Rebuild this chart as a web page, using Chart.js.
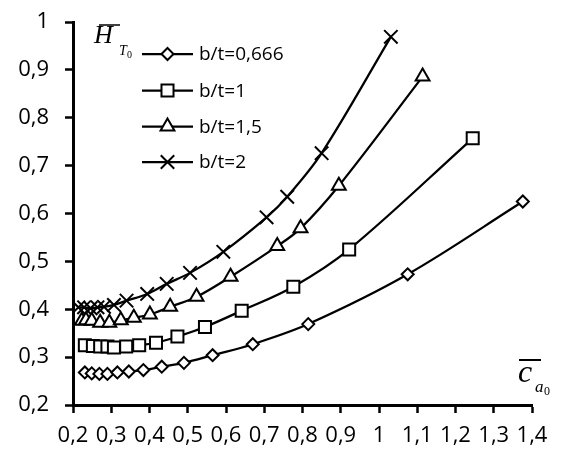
<!DOCTYPE html>
<html>
<head>
<meta charset="utf-8">
<script src="https://cdn.jsdelivr.net/npm/chart.js@4.4.1/dist/chart.umd.min.js"></script>
<style>
  html, body { margin: 0; padding: 0; background: #fff; }
  #wrap { width: 562px; height: 453px; position: relative; }
</style>
</head>
<body>
<div id="wrap"><canvas id="c"></canvas></div>
<script>
// Series names
const seriesLabels = ['b/t=0,666', 'b/t=1', 'b/t=1,5', 'b/t=2'];

// b/t = 0,666
const xBt0666 = [0.231, 0.249, 0.269, 0.290, 0.316, 0.346, 0.384, 0.432, 0.490, 0.565, 0.670, 0.815, 1.075, 1.376];
const yBt0666 = [0.268, 0.266, 0.265, 0.265, 0.268, 0.270, 0.273, 0.280, 0.288, 0.304, 0.327, 0.369, 0.473, 0.625];

// b/t = 1
const xBt1 = [0.231, 0.252, 0.271, 0.290, 0.307, 0.339, 0.373, 0.417, 0.473, 0.545, 0.641, 0.776, 0.922, 1.245];
const yBt1 = [0.325, 0.323, 0.322, 0.322, 0.320, 0.322, 0.325, 0.330, 0.343, 0.363, 0.397, 0.447, 0.525, 0.757];

// b/t = 1,5
const xBt15 = [0.223, 0.234, 0.249, 0.271, 0.295, 0.325, 0.359, 0.401, 0.454, 0.523, 0.612, 0.734, 0.795, 0.895, 1.114];
const yBt15 = [0.376, 0.377, 0.376, 0.372, 0.372, 0.377, 0.382, 0.389, 0.405, 0.426, 0.468, 0.532, 0.569, 0.658, 0.886];

// b/t = 2
const xBt2 = [0.214, 0.229, 0.246, 0.264, 0.281, 0.307, 0.340, 0.394, 0.445, 0.506, 0.593, 0.706, 0.760, 0.850, 1.031];
const yBt2 = [0.404, 0.404, 0.402, 0.404, 0.405, 0.409, 0.418, 0.432, 0.453, 0.476, 0.520, 0.592, 0.635, 0.726, 0.969];

// Axis tick labels (comma decimal separator)
const xTickLabels = ['0,2', '0,3', '0,4', '0,5', '0,6', '0,7', '0,8', '0,9', '1', '1,1', '1,2', '1,3', '1,4'];
const yTickLabels = ['0,2', '0,3', '0,4', '0,5', '0,6', '0,7', '0,8', '0,9', '1'];

const pairs = (xs, ys) => xs.map((x, i) => ({ x: x, y: ys[i] }));

const markerStyles = [
  { pointStyle: 'rectRot', radius: 6 },
  { pointStyle: 'rect', radius: 8.5 },
  { pointStyle: 'triangle', radius: 8 },
  { pointStyle: 'crossRot', radius: 9.5 }
];
const seriesData = [pairs(xBt0666, yBt0666), pairs(xBt1, yBt1), pairs(xBt15, yBt15), pairs(xBt2, yBt2)];

const datasets = seriesData.map((d, i) => ({
  label: seriesLabels[i],
  data: d,
  showLine: true,
  tension: 0.35,
  borderColor: '#000',
  borderWidth: 2.25,
  pointStyle: markerStyles[i].pointStyle,
  pointRadius: markerStyles[i].radius,
  pointHoverRadius: markerStyles[i].radius,
  pointBorderColor: '#000',
  pointBackgroundColor: '#fff',
  pointBorderWidth: 2
}));

const tickFont = { family: '"Open Sans", sans-serif', size: 22 };

// Legend: a short line with the marker in its middle, then the series name
const lineLegend = {
  id: 'lineLegend',
  afterDatasetsDraw(chart) {
    const ctx = chart.ctx;
    const rows = [54, 90.5, 126.5, 162];
    ctx.save();
    chart.data.datasets.forEach((ds, i) => {
      const y = rows[i];
      ctx.strokeStyle = '#000';
      ctx.lineWidth = 2.25;
      ctx.beginPath();
      ctx.moveTo(142, y);
      ctx.lineTo(193, y);
      ctx.stroke();
      ctx.fillStyle = '#fff';
      ctx.lineWidth = 2;
      Chart.helpers.drawPoint(ctx, { pointStyle: ds.pointStyle, radius: ds.pointRadius, rotation: 0, borderWidth: 2 }, 167.5, y);
      ctx.fillStyle = '#000';
      ctx.font = '19px "Open Sans", sans-serif';
      ctx.textBaseline = 'middle';
      ctx.textAlign = 'left';
      ctx.fillText(ds.label, 199, y + 1);
    });
    ctx.restore();
  }
};

// Axis titles: H with overbar and subscript T0, c with overbar and subscript a0
const axisTitles = {
  id: 'axisTitles',
  afterDraw(chart) {
    const ctx = chart.ctx;
    ctx.save();
    ctx.fillStyle = '#000';
    ctx.strokeStyle = '#000';
    ctx.textBaseline = 'alphabetic';
    ctx.textAlign = 'left';

    ctx.font = 'italic 26px "Liberation Serif", serif';
    ctx.fillText('H', 94, 43);
    ctx.lineWidth = 1.5;
    ctx.beginPath(); ctx.moveTo(99, 25); ctx.lineTo(120, 25); ctx.stroke();
    ctx.font = 'italic 14px "Liberation Serif", serif';
    ctx.fillText('T', 119, 55);
    ctx.font = '10px "Liberation Serif", serif';
    ctx.fillText('0', 127, 58);

    ctx.font = 'italic 32px "Liberation Serif", serif';
    ctx.fillText('c', 518, 382);
    ctx.lineWidth = 2;
    ctx.beginPath(); ctx.moveTo(519, 360); ctx.lineTo(541, 360); ctx.stroke();
    ctx.font = 'italic 17px "Liberation Serif", serif';
    ctx.fillText('a', 535, 392);
    ctx.font = '12px "Liberation Serif", serif';
    ctx.fillText('0', 544, 395);
    ctx.restore();
  }
};

const labelFor = (list, v) => list[Math.round((v - 0.2) / 0.1)];

new Chart(document.getElementById('c'), {
  type: 'scatter',
  data: { datasets: datasets },
  options: {
    responsive: true,
    maintainAspectRatio: false,
    devicePixelRatio: 1,
    animation: false,
    layout: { padding: { left: 0, right: 30, top: 22, bottom: 0 } },
    plugins: { legend: { display: false }, tooltip: { enabled: false } },
    scales: {
      x: {
        type: 'linear',
        min: 0.2,
        max: 1.4,
        afterFit: (s) => { s.height = 48; s.paddingLeft = 0; s.paddingRight = 0; },
        ticks: {
          stepSize: 0.1,
          color: '#000',
          font: tickFont,
          padding: 10,
          maxRotation: 0,
          autoSkip: false,
          callback: (v) => labelFor(xTickLabels, v)
        },
        grid: { drawOnChartArea: false, drawTicks: true, tickLength: 8, tickColor: '#000', tickWidth: 2.5 },
        border: { display: true, color: '#000', width: 3 }
      },
      y: {
        type: 'linear',
        min: 0.2,
        max: 1,
        afterFit: (s) => { s.width = 73; s.paddingTop = 0; s.paddingBottom = 0; },
        ticks: {
          stepSize: 0.1,
          color: '#000',
          font: tickFont,
          padding: 16,
          autoSkip: false,
          callback: (v) => labelFor(yTickLabels, v)
        },
        grid: { drawOnChartArea: false, drawTicks: true, tickLength: 8, tickColor: '#000', tickWidth: 2.5 },
        border: { display: true, color: '#000', width: 3 }
      }
    }
  },
  plugins: [lineLegend, axisTitles]
});
</script>
</body>
</html>
